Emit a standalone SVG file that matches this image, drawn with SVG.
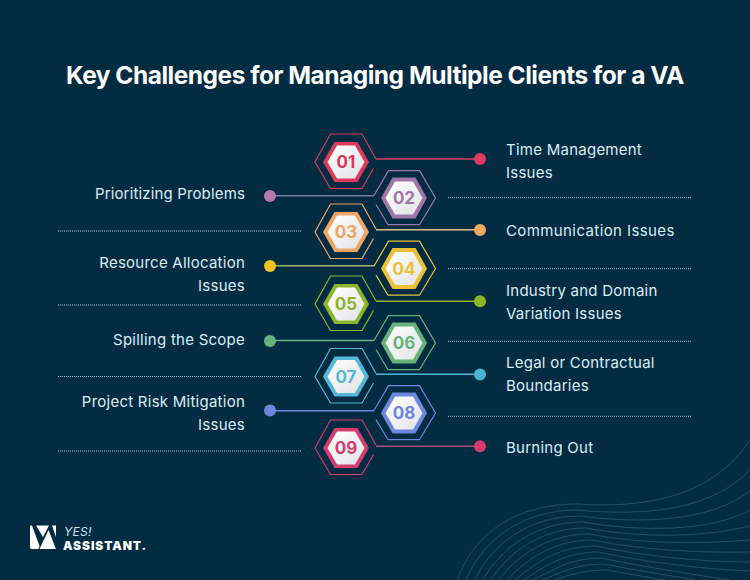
<svg xmlns="http://www.w3.org/2000/svg" width="750" height="580" viewBox="0 0 750 580">
<style>
text{font-family:"Inter","Liberation Sans",sans-serif}
.title{font-size:24.5px;font-weight:700;fill:#fff;letter-spacing:-.5px}
.lbl{font-size:15px;fill:#d8ecf5;letter-spacing:.25px}
.r{text-anchor:end}
.num{font-family:"Inter","Liberation Sans",sans-serif;font-size:17px;font-weight:700;text-anchor:middle}
.dot{fill:none;stroke:#9fc3d2;stroke-width:1;stroke-dasharray:1 1}
.wave{fill:none;stroke:#7fb3c6;stroke-width:.7;opacity:.36}
.ln{fill:none;stroke-width:1.2}
.cn{fill:none;stroke-width:1.5}
.white{fill:url(#g)}
</style>
<defs>
<linearGradient id="g" x1="0" y1="0" x2="1" y2="1"><stop offset="0" stop-color="#ffffff"/><stop offset="1" stop-color="#e2e3e6"/></linearGradient>
<g id="hexR"><path class="ln" stroke="currentColor" d="M28 6.500L16.500 26.500H-15L-30.500 0L-15 -28H16.500L30.500 -3"/><path fill="currentColor" d="M-22.500 0L-11 -20H12L23.500 0L12 20H-11Z"/><path class="white" d="M-18 0L-8.500 -16.500H9.500L19 0L9.500 16.500H-8.500Z"/></g>
<g id="hexL"><path class="ln" stroke="currentColor" d="M-28 6.500L-16 26.700H15.500L31.500 0L15.500 -27.300H-15.500L-30 -2.500"/><path fill="currentColor" d="M-23 0L-11.500 -20.500H11.500L23 0L11.500 20.500H-11.500Z"/><path class="white" d="M-18.500 0L-9 -16.500H9L18.500 0L9 16.500H-9Z"/></g>
</defs>
<rect width="750" height="580" fill="#032c43"/>
<g id="waves">
<path class="wave" d="M457 580C475 530 520 504 577 504C640 508 710 500 750 440"/>
<path class="wave" d="M466 580C484 537 525 510 577 510C640 516 710 512 750 470"/>
<path class="wave" d="M475 580C492 543 530 516 580 516C640 524 710 522 750 491"/>
<path class="wave" d="M483 580C500 549 535 522 583 522C640 532 710 532 750 510"/>
<path class="wave" d="M491 580C507 554 540 528 586 528C640 538 700 538 750 526"/>
<path class="wave" d="M499 580C514 559 545 534 589 534C640 544 700 544 750 540"/>
<path class="wave" d="M507 580C522 564 550 540 592 540C640 550 700 553 750 552"/>
<path class="wave" d="M515 580C530 568 555 546 595 546C645 556 700 562 750 562"/>
<path class="wave" d="M523 580C538 572 560 552 598 552C645 562 700 569 750 571"/>
<path class="wave" d="M532 580C546 575 566 558 601 558C645 567 690 574 730 580"/>
<path class="wave" d="M542 580C555 576 572 564 604 564C635 570 665 575 695 580"/>
<path class="wave" d="M553 580C565 577 580 570 607 570C625 573 645 577 665 580"/>
</g>
<text class="title" x="66" y="83.500">Key Challenges for Managing Multiple Clients for a VA</text>
<g id="connectors">
<path class="cn" stroke="#d9405f" d="M376 159H480"/>
<path class="cn" stroke="#7b7ca6" d="M270 195.700H374"/>
<path class="cn" stroke="#dcc086" d="M376 229.700H480"/>
<path class="cn" stroke="#a3b56a" d="M270 265.700H374"/>
<path class="cn" stroke="#8fb52b" d="M376 301.300H480"/>
<path class="cn" stroke="#6cb585" d="M270 340.500H374"/>
<path class="cn" stroke="#4fb4d0" d="M376 374.300H480"/>
<path class="cn" stroke="#6d86e0" d="M270 410.700H374"/>
<path class="cn" stroke="#a8507c" d="M376 446.300H480"/>
<circle cx="480" cy="159" r="6" fill="#e03a5f"/>
<circle cx="270" cy="196" r="6" fill="#b57aa8"/>
<circle cx="480" cy="230" r="6" fill="#f2a860"/>
<circle cx="270" cy="266" r="6" fill="#eec322"/>
<circle cx="480" cy="301.300" r="6" fill="#8fb520"/>
<circle cx="270" cy="341" r="6" fill="#66b27a"/>
<circle cx="480" cy="374.500" r="6" fill="#48b5d2"/>
<circle cx="270" cy="410.500" r="6" fill="#6d86e0"/>
<circle cx="480" cy="446.300" r="6" fill="#d23c6e"/>
</g>
<g id="dividers">
<path class="dot" d="M58 231H301M58 305H301M58 376.500H301M58 451H301"/>
<path class="dot" d="M448 197.700H691M448 268.700H691M448 341.300H691M448 416.300H691"/>
</g>
<g id="n01" color="#dd3a5a"><use href="#hexR" x="345.500" y="162"/><text class="num" x="346" y="168" fill="#d53a5b">01</text><text class="lbl" x="506" y="155">Time Management</text><text class="lbl" x="506" y="178">Issues</text></g>
<g id="n02" color="#a076a6"><use href="#hexL" x="404" y="198"/><text class="num" x="404" y="204" fill="#a076a6">02</text><text class="lbl r" x="245" y="199" style="letter-spacing:.15px">Prioritizing Problems</text></g>
<g id="n03" color="#eda564"><use href="#hexR" x="345.500" y="232"/><text class="num" x="346" y="238" fill="#eda564">03</text><text class="lbl" x="506" y="236" style="letter-spacing:.4px">Communication Issues</text></g>
<g id="n04" color="#ecc136"><use href="#hexL" x="404" y="268.500"/><text class="num" x="404" y="274.500" fill="#ecc136">04</text><text class="lbl r" x="245" y="268">Resource Allocation</text><text class="lbl r" x="245" y="291">Issues</text></g>
<g id="n05" color="#8db52a"><use href="#hexR" x="345.500" y="304"/><text class="num" x="346" y="310" fill="#8db52a">05</text><text class="lbl" x="506" y="296">Industry and Domain</text><text class="lbl" x="506" y="319">Variation Issues</text></g>
<g id="n06" color="#66b27a"><use href="#hexL" x="404" y="343"/><text class="num" x="404" y="349" fill="#66b27a">06</text><text class="lbl r" x="245" y="345">Spilling the Scope</text></g>
<g id="n07" color="#52b8d4"><use href="#hexR" x="345.500" y="376.500"/><text class="num" x="346" y="382.500" fill="#52b8d4">07</text><text class="lbl" x="506" y="368">Legal or Contractual</text><text class="lbl" x="506" y="391">Boundaries</text></g>
<g id="n08" color="#6d86e0"><use href="#hexL" x="404" y="413"/><text class="num" x="404" y="419" fill="#6d86e0">08</text><text class="lbl r" x="245" y="407">Project Risk Mitigation</text><text class="lbl r" x="245" y="430">Issues</text></g>
<g id="n09" color="#d23c6e"><use href="#hexR" x="345.500" y="448"/><text class="num" x="346" y="454" fill="#d23c6e">09</text><text class="lbl" x="506" y="453">Burning Out</text></g>
<g id="logo">
<path fill="#fff" d="M30 525.500H32L39.500 546L38.500 549H31.500Q30 549 30 547.500Z"/>
<path fill="#fff" d="M36 525.500H49L43 537Z"/>
<path fill="#fff" d="M39.500 549L48.500 530L56 549Z"/>
<path fill="#fff" d="M52 525.500H56V537Z"/>
<text x="64" y="535.500" font-size="12" font-style="italic" fill="#cfe0e8" letter-spacing=".3">YES!</text>
<text x="63" y="549.500" font-size="12" font-weight="900" fill="#fff" letter-spacing=".9">ASSISTANT.</text>
</g>
</svg>
